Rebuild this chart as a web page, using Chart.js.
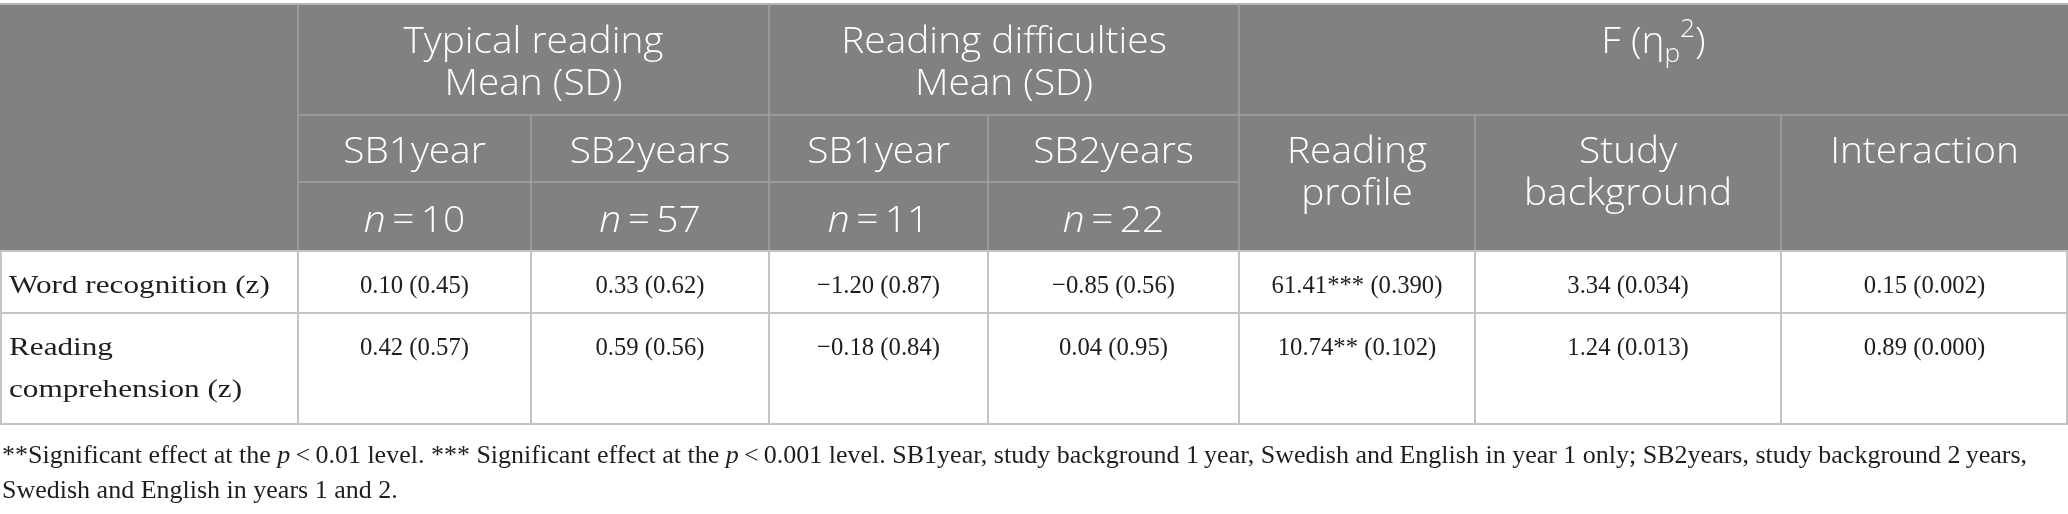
<!DOCTYPE html>
<html><head><meta charset="utf-8">
<script src="https://cdn.jsdelivr.net/npm/chart.js@4.4.1/dist/chart.umd.min.js"></script>
<style>html,body{margin:0;padding:0;background:#fff;}#wrap{width:2068px;height:514px;}</style>
</head><body><div id="wrap"><canvas id="c" width="2068" height="514"></canvas></div>
<script>
// ---------- DATA ----------
const groupHeaders = ['Typical reading\nMean (SD)', 'Reading difficulties\nMean (SD)'];
const effectHeader = ['F (\u03b7', 'p', '2', ')'];
const subHeaders = ['SB1year', 'SB2years', 'SB1year', 'SB2years', 'Reading\nprofile', 'Study\nbackground', 'Interaction'];
const groupSizes = [10, 57, 11, 22];
const rowLabels = ['Word recognition (z)', 'Reading\ncomprehension (z)'];
const wordMeans = [0.10, 0.33, -1.20, -0.85];
const wordSDs = [0.45, 0.62, 0.87, 0.56];
const compMeans = [0.42, 0.59, -0.18, 0.04];
const compSDs = [0.57, 0.56, 0.84, 0.95];
const wordF = [61.41, 3.34, 0.15];
const wordEta = [0.390, 0.034, 0.002];
const wordStars = ['***', '', ''];
const compF = [10.74, 1.24, 0.89];
const compEta = [0.102, 0.013, 0.000];
const compStars = ['**', '', ''];
const footnoteLine1 = ['**Significant effect at the ', {i: 'p'}, '\u2009<\u20090.01 level. *** Significant effect at the ', {i: 'p'}, '\u2009<\u20090.001 level. SB1year, study background 1\u2009year, Swedish and English in year 1 only; SB2years, study background 2\u2009years,'];
const footnoteLine2 = ['Swedish and English in years 1 and 2.'];

// ---------- LAYOUT ----------
const W = 2068, H = 514;
const colEdges = [0, 298, 531, 769, 988, 1239, 1475, 1781, 2068];
const rowEdges = [4, 115, 182, 251, 313, 424];
const groupBase = [53, 95];
const subBase = [163, 205];
const nBase = 232;
const rowBase = [[293], [355, 397]];
const footBase = [463, 498];
const headFont = '300 37px "Open Sans", "Noto Sans", sans-serif';
const headItal = 'italic 300 37px "Open Sans", "Noto Sans", sans-serif';
const headSmall = '300 25px "Open Sans", "Noto Sans", sans-serif';
const headSX = 1.05;
const bodyFont = '26px "Liberation Serif", serif';
const bodyItal = 'italic 26px "Liberation Serif", serif';
const numSX = 0.95, labelSX = 1.2, footSX = 1.0;
const headBg = '#808180';
const headLine = '#a2a3a2';
const bodyLine = '#c4c4c4';
const bodyText = '#1e1e1e';

function fmt(v, d) { return (v < 0 ? '\u2212' : '') + Math.abs(v).toFixed(d); }

const tablePlugin = {
  id: 'table',
  afterDraw(chart) {
    const ctx = chart.ctx, xs = chart.scales.x, ys = chart.scales.y;
    const X = v => xs.getPixelForValue(v), Y = v => ys.getPixelForValue(v);
    ctx.save();
    ctx.fillStyle = headBg;
    ctx.fillRect(X(0), Y(rowEdges[0]), X(W) - X(0), Y(rowEdges[3]) - Y(rowEdges[0]));

    function line(x1, y1, x2, y2, c, w) {
      ctx.strokeStyle = c; ctx.lineWidth = w;
      ctx.beginPath(); ctx.moveTo(X(x1), Y(y1)); ctx.lineTo(X(x2), Y(y2)); ctx.stroke();
    }
    line(0, rowEdges[0], W, rowEdges[0], '#b4b4b4', 2);
    line(colEdges[1], rowEdges[1], W, rowEdges[1], headLine, 1.5);
    line(colEdges[1], rowEdges[2], colEdges[5], rowEdges[2], headLine, 1.5);
    [1, 3, 5].forEach(i => line(colEdges[i], rowEdges[0], colEdges[i], rowEdges[3], headLine, 1.5));
    [2, 4, 6, 7].forEach(i => line(colEdges[i], rowEdges[1], colEdges[i], rowEdges[3], headLine, 1.5));
    [3, 4, 5].forEach(r => line(0, rowEdges[r], W, rowEdges[r], bodyLine, 2));
    for (let i = 1; i < colEdges.length - 1; i++) line(colEdges[i], rowEdges[3], colEdges[i], rowEdges[5], bodyLine, 2);
    line(1, rowEdges[3], 1, rowEdges[5], bodyLine, 2);
    line(W - 1, rowEdges[3], W - 1, rowEdges[5], bodyLine, 2);

    ctx.textBaseline = 'alphabetic';
    function runsWidth(runs, f, fi, sx) {
      let w = 0;
      runs.forEach(r => { ctx.font = (typeof r === 'string') ? f : fi; w += ctx.measureText(typeof r === 'string' ? r : r.i).width; });
      return w * sx;
    }
    function drawRuns(runs, x, y, align, f, fi, sx, color) {
      const w = runsWidth(runs, f, fi, sx);
      let cx = align === 'center' ? x - w / 2 : x;
      ctx.fillStyle = color; ctx.textAlign = 'left';
      runs.forEach(r => {
        const t = typeof r === 'string' ? r : r.i;
        ctx.font = typeof r === 'string' ? f : fi;
        ctx.save(); ctx.translate(cx, y); ctx.scale(sx, 1); ctx.fillText(t, 0, 0); ctx.restore();
        cx += ctx.measureText(t).width * sx;
      });
    }
    function drawLines(text, x, bases, align, f, sx, color) {
      text.split('\n').forEach((t, k) => drawRuns([t], X(x), Y(bases[k]), align, f, f, sx, color));
    }
    const mid = (a, b) => (colEdges[a] + colEdges[b]) / 2;

    drawLines(groupHeaders[0], mid(1, 3), groupBase, 'center', headFont, headSX, '#fff');
    drawLines(groupHeaders[1], mid(3, 5), groupBase, 'center', headFont, headSX, '#fff');
    {
      const by = Y(groupBase[0]);
      const parts = [[effectHeader[0], headFont, 0], [effectHeader[1], headSmall, 9], [effectHeader[2], headSmall, -16], [effectHeader[3], headFont, 0]];
      let total = 0;
      parts.forEach(p => { ctx.font = p[1]; total += ctx.measureText(p[0]).width * headSX; });
      let cx = X(mid(5, 8)) - total / 2;
      ctx.fillStyle = '#fff'; ctx.textAlign = 'left';
      parts.forEach(p => {
        ctx.font = p[1];
        ctx.save(); ctx.translate(cx, by + p[2]); ctx.scale(headSX, 1); ctx.fillText(p[0], 0, 0); ctx.restore();
        cx += ctx.measureText(p[0]).width * headSX;
      });
    }
    subHeaders.forEach((s, i) => drawLines(s, mid(i + 1, i + 2), subBase, 'center', headFont, headSX, '#fff'));
    groupSizes.forEach((n, i) => drawRuns([{i: 'n'}, '\u2009=\u2009' + n], X(mid(i + 1, i + 2)), Y(nBase), 'center', headFont, headItal, headSX, '#fff'));

    const means = [wordMeans, compMeans], sds = [wordSDs, compSDs];
    const fs = [wordF, compF], etas = [wordEta, compEta], stars = [wordStars, compStars];
    rowLabels.forEach((lab, r) => {
      drawLines(lab, 9, rowBase[r], 'left', bodyFont, labelSX, bodyText);
      means[r].forEach((m, i) => drawRuns([fmt(m, 2) + ' (' + fmt(sds[r][i], 2) + ')'], X(mid(i + 1, i + 2)), Y(rowBase[r][0]), 'center', bodyFont, bodyItal, numSX, bodyText));
      fs[r].forEach((f, i) => drawRuns([fmt(f, 2) + stars[r][i] + ' (' + fmt(etas[r][i], 3) + ')'], X(mid(i + 5, i + 6)), Y(rowBase[r][0]), 'center', bodyFont, bodyItal, numSX, bodyText));
    });

    drawRuns(footnoteLine1, X(2), Y(footBase[0]), 'left', bodyFont, bodyItal, footSX, bodyText);
    drawRuns(footnoteLine2, X(2), Y(footBase[1]), 'left', bodyFont, bodyItal, footSX, bodyText);
    ctx.restore();
  }
};

new Chart(document.getElementById('c'), {
  type: 'scatter',
  data: { datasets: [] },
  options: {
    responsive: false, animation: false, events: [],
    layout: { padding: 0 },
    plugins: { legend: { display: false }, tooltip: { enabled: false }, title: { display: false } },
    scales: {
      x: { type: 'linear', min: 0, max: W, display: false },
      y: { type: 'linear', min: 0, max: H, reverse: true, display: false }
    }
  },
  plugins: [tablePlugin]
});
</script>
</body></html>
